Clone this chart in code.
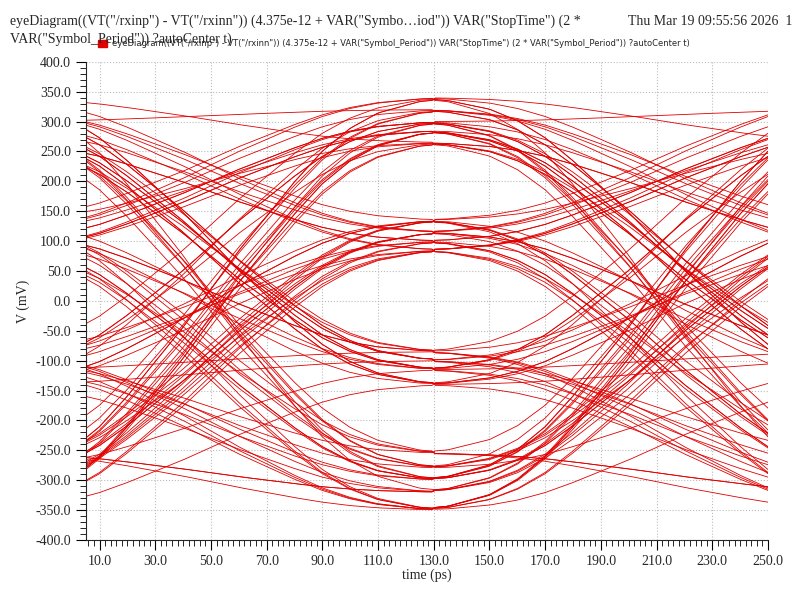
import numpy as np, pandas as pd, matplotlib
matplotlib.use("Agg")
import matplotlib.pyplot as plt, seaborn as sns
from matplotlib.ticker import MultipleLocator

levels_mv = [-350, -320, -300, -280, -255, -140, -115, -100, -85, 85, 100, 115, 135, 265, 285, 300, 320, 340]
symbols = [1,10,15,6,2,11,16,7,0,14,5,9,15,3,12,6,13,2,17,11,8,0,9,14,4,1,12,13,6,10,2,15,16,7,9,0,14,11,5,12,3,6,15,9,2,17,13,8,10,0,5,16,12,4,1,9,14,3,11,17,5,7,12,0,15,6,8,1,13,10,
           2,14,7,4,16,11,3,9,13,6,0,10,15,8,2,12,17,5,1,11,14,7,3,16,9,4,0,13,10,6,15,2,11,8,17,1,14,5,12,3]
shape_dt = [-90,-75,-60,-50,-40,-30,-20,-10,0,10,20,30,40,50,60,75,90]
shape_v = [0,0.01,0.04,0.08,0.14,0.22,0.31,0.40,0.5,0.60,0.69,0.78,0.86,0.92,0.96,0.99,1]
time_ps = np.linspace(5, 250, 200)
yticks = list(range(-400, 401, 50))
xticks = list(range(10, 251, 20))

rows = []
for k in range(len(symbols) - 2):
    s0, s1, s2 = (levels_mv[i] for i in symbols[k:k+3])
    for t in time_ps:
        if t < 130:
            v = s0 + (s1 - s0) * np.interp(t - 50, shape_dt, shape_v)
        else:
            v = s1 + (s2 - s1) * np.interp(t - 210, shape_dt, shape_v)
        rows.append((k, t, v))
df = pd.DataFrame(rows, columns=["trace", "t", "v"])

sns.set_style("white")
plt.rcParams["font.family"] = ["Liberation Serif", "DejaVu Serif"]
fig = plt.figure(figsize=(8, 6), dpi=100)
ax = fig.add_axes([0.107, 0.1, 0.853, 0.797])
sns.lineplot(data=df, x="t", y="v", units="trace", estimator=None, color="#e00000", lw=0.6, ax=ax, legend=False)
ax.set_xlim(5, 250); ax.set_ylim(-400, 400)
ax.set_yticks(yticks); ax.set_yticklabels([f"{y:.1f}" for y in yticks], fontsize=10)
ax.set_xticks(xticks); ax.set_xticklabels([f"{x:.1f}" for x in xticks], fontsize=10)
ax.xaxis.set_minor_locator(MultipleLocator(2)); ax.yaxis.set_minor_locator(MultipleLocator(10))
ax.tick_params(which="both", direction="out", length=4, color="black")
ax.tick_params(which="major", length=7)
ax.tick_params(bottom=True, left=True, which="both")
ax.grid(True, which="major", ls=":", color="#bbbbbb", lw=0.8)
for s in ["top", "right"]: ax.spines[s].set_visible(False)
ax.set_xlabel("time (ps)", fontsize=10, labelpad=1); ax.set_ylabel("V (mV)", fontsize=10)
fig.text(0.012, 0.975, 'eyeDiagram((VT("/rxinp") - VT("/rxinn")) (4.375e-12 + VAR("Symbo…iod")) VAR("StopTime") (2 *', fontsize=10, va="top")
fig.text(0.012, 0.945, 'VAR("Symbol_Period")) ?autoCenter t)', fontsize=10, va="top")
fig.text(0.99, 0.975, 'Thu Mar 19 09:55:56 2026  1', fontsize=10, va="top", ha="right")
fig.patches.append(plt.Rectangle((0.122, 0.922), 0.012, 0.012, transform=fig.transFigure, color="#e00000"))
fig.text(0.14, 0.928, 'eyeDiagram((VT("/rxinp") - VT("/rxinn")) (4.375e-12 + VAR("Symbol_Period")) VAR("StopTime") (2 * VAR("Symbol_Period")) ?autoCenter t)', fontsize=6, family="DejaVu Sans", va="center")
fig.savefig("out.png", dpi=100)
